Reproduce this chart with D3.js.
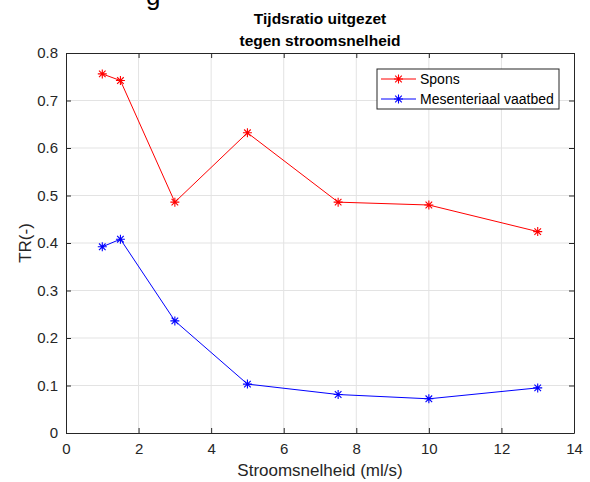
<!DOCTYPE html>
<html>
<head>
<meta charset="utf-8">
<script src="https://cdn.jsdelivr.net/npm/d3@7"></script>
<style>
  body { margin: 0; background: #fff; }
  text { font-family: "Liberation Sans", Arial, sans-serif; }
</style>
</head>
<body>
<div class="chart"></div>
<script>
const flow = [1, 1.5, 3, 5, 7.5, 10, 13];
const spons = [0.756, 0.742, 0.486, 0.632, 0.486, 0.480, 0.424];
const mesenteriaal = [0.392, 0.408, 0.236, 0.103, 0.081, 0.072, 0.095];
const seriesNames = ['Spons', 'Mesenteriaal vaatbed'];
const seriesColors = ['#ff0000', '#0000ff'];
const xTicks = [0, 2, 4, 6, 8, 10, 12, 14];
const yTicks = [0, 0.1, 0.2, 0.3, 0.4, 0.5, 0.6, 0.7, 0.8];

const W = 590, H = 482;
const margin = {top: 53, right: 16, bottom: 49, left: 66};
const width = W - margin.left - margin.right,
      height = H - margin.top - margin.bottom;

const svg = d3.select('.chart').append('svg')
    .attr('width', W).attr('height', H);

// cut-off text fragment at the very top
svg.append('text').text('g')
    .attr('x', 146).attr('y', 5)
    .attr('font-size', 26).attr('fill', '#000');

const g = svg.append('g')
    .attr('transform', `translate(${margin.left},${margin.top})`);

const x = d3.scaleLinear().domain([0, 14]).range([0, width]);
const y = d3.scaleLinear().domain([0, 0.8]).range([height, 0]);

// grid
g.append('g').selectAll('line').data(xTicks.slice(1, -1)).join('line')
    .attr('x1', d => x(d)).attr('x2', d => x(d))
    .attr('y1', 0).attr('y2', height)
    .attr('stroke', '#e3e3e3').attr('stroke-width', 1);
g.append('g').selectAll('line').data(yTicks.slice(1, -1)).join('line')
    .attr('y1', d => y(d)).attr('y2', d => y(d))
    .attr('x1', 0).attr('x2', width)
    .attr('stroke', '#e3e3e3').attr('stroke-width', 1);

// axes (ticks inside, box)
const axCol = '#262626';
const xAxis = d3.axisBottom(x).tickValues(xTicks).tickFormat(d3.format('d'))
    .tickSizeInner(-5).tickSizeOuter(0).tickPadding(10);
const yAxis = d3.axisLeft(y).tickValues(yTicks).tickFormat(d => d === 0 ? '0' : d3.format('.1f')(d))
    .tickSizeInner(-5).tickSizeOuter(0).tickPadding(8);

const gx = g.append('g').attr('transform', `translate(0,${height})`).call(xAxis);
const gy = g.append('g').call(yAxis);
const gxt = g.append('g').call(d3.axisTop(x).tickValues(xTicks).tickFormat('').tickSizeInner(-5).tickSizeOuter(0));
const gyr = g.append('g').attr('transform', `translate(${width},0)`)
    .call(d3.axisRight(y).tickValues(yTicks).tickFormat('').tickSizeInner(-5).tickSizeOuter(0));

[gx, gy, gxt, gyr].forEach(a => {
    a.select('.domain').attr('stroke', axCol).attr('stroke-width', 1);
    a.selectAll('.tick line').attr('stroke', axCol);
    a.selectAll('.tick text').attr('fill', axCol).attr('font-size', 15)
        .style('font-family', '"Liberation Sans", Arial, sans-serif');
});

// series
const series = [spons, mesenteriaal];
const line = d3.line().x((d, i) => x(flow[i])).y(d => y(d));

function star(sel, cx, cy, color) {
    const r = 4.5, r2 = 3.3;
    const p = `M${cx - r},${cy}L${cx + r},${cy}M${cx},${cy - r}L${cx},${cy + r}` +
        `M${cx - r2},${cy - r2}L${cx + r2},${cy + r2}M${cx - r2},${cy + r2}L${cx + r2},${cy - r2}`;
    sel.append('path').attr('d', p).attr('stroke', color).attr('stroke-width', 1.1).attr('fill', 'none');
}

series.forEach((vals, s) => {
    g.append('path').datum(vals)
        .attr('d', line)
        .attr('fill', 'none')
        .attr('stroke', seriesColors[s])
        .attr('stroke-width', 1);
    vals.forEach((v, i) => star(g, x(flow[i]), y(v), seriesColors[s]));
});

// legend
const lg = svg.append('g').attr('transform', 'translate(377,69)');
lg.append('rect').attr('width', 182).attr('height', 40)
    .attr('fill', '#fff').attr('stroke', axCol).attr('stroke-width', 1);
seriesNames.forEach((name, i) => {
    const yy = 10 + i * 20;
    lg.append('line').attr('x1', 4).attr('x2', 39).attr('y1', yy).attr('y2', yy)
        .attr('stroke', seriesColors[i]).attr('stroke-width', 1);
    star(lg, 21.5, yy, seriesColors[i]);
    lg.append('text').text(name)
        .attr('x', 43).attr('y', yy)
        .attr('dominant-baseline', 'central')
        .attr('font-size', 14).attr('fill', '#000');
});

// title
const cx = margin.left + width / 2;
svg.append('text').text('Tijdsratio uitgezet')
    .attr('x', cx).attr('y', 24).attr('text-anchor', 'middle')
    .attr('font-size', 15.5).attr('font-weight', 'bold').attr('fill', '#000');
svg.append('text').text('tegen stroomsnelheid')
    .attr('x', cx).attr('y', 46).attr('text-anchor', 'middle')
    .attr('font-size', 15.5).attr('font-weight', 'bold').attr('fill', '#000');

// axis labels
svg.append('text').text('Stroomsnelheid (ml/s)')
    .attr('x', cx).attr('y', 476).attr('text-anchor', 'middle')
    .attr('font-size', 17).attr('fill', axCol);
svg.append('text').text('TR(-)')
    .attr('transform', `translate(31,${margin.top + height / 2}) rotate(-90)`)
    .attr('text-anchor', 'middle')
    .attr('font-size', 17).attr('fill', axCol);
</script>
</body>
</html>
